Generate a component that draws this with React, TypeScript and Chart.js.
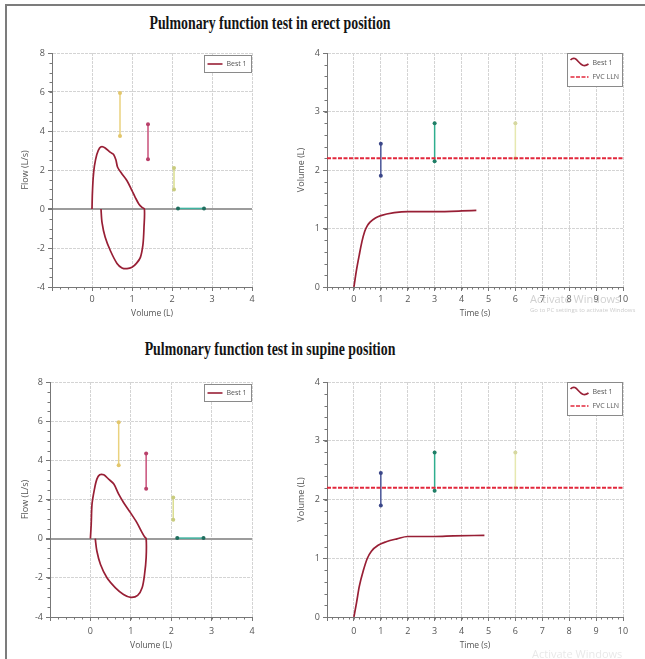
import React, { useEffect, useRef } from 'react';
import { Chart, registerables } from 'chart.js';

Chart.register(...registerables);

// ---------------- data ----------------
// Flow-volume loop, erect
const erectLoopVolume = [0, 0.01, 0.03, 0.06, 0.12, 0.19, 0.25, 0.33, 0.46, 0.54, 0.6, 0.64, 0.75, 0.875, 1.0, 1.08, 1.17, 1.25, 1.31, 1.3, 1.275, 1.21, 1.11, 1.0, 0.875, 0.75, 0.625, 0.46, 0.33, 0.25, 0.225];
const erectLoopFlow = [0, 0.8, 1.6, 2.2, 2.8, 3.13, 3.2, 3.13, 2.9, 2.8, 2.5, 2.14, 1.8, 1.45, 0.94, 0.6, 0.26, 0.08, 0, -0.94, -1.8, -2.48, -2.79, -2.99, -3.06, -3.02, -2.79, -2.14, -1.45, -0.68, 0];
// Flow-volume loop, supine
const supineLoopVolume = [0, 0.02, 0.04, 0.1, 0.16, 0.23, 0.33, 0.45, 0.58, 0.7, 0.82, 0.99, 1.15, 1.28, 1.34, 1.38, 1.38, 1.34, 1.28, 1.17, 1.0, 0.82, 0.62, 0.41, 0.25, 0.16, 0.12];
const supineLoopFlow = [0, 0.74, 1.76, 2.53, 3.04, 3.26, 3.26, 3.04, 2.79, 2.27, 1.85, 1.33, 0.82, 0.31, 0.1, 0, -0.97, -1.83, -2.51, -2.9, -3.0, -2.85, -2.51, -2.0, -1.32, -0.63, 0];
// Flow-volume reference bars (volume pairs, flow pairs)
const flowRefVolumes = [[0.7, 0.7], [1.4, 1.4], [2.05, 2.05], [2.15, 2.8]];
const erectFlowRefFlows = [[3.75, 5.95], [2.55, 4.35], [1.0, 2.1], [0.03, 0.03]];
const supineFlowRefVolumes = [[0.7, 0.7], [1.38, 1.38], [2.05, 2.05], [2.15, 2.8]];
const supineFlowRefFlows = [[3.75, 5.95], [2.55, 4.35], [0.97, 2.1], [0.03, 0.03]];

// Volume-time, erect
const erectTime = [0, 0.1, 0.2, 0.3, 0.4, 0.5, 0.6, 0.8, 1.0, 1.5, 2.0, 3.0, 4.0, 4.55];
const erectVolume = [0, 0.3, 0.55, 0.78, 0.95, 1.05, 1.11, 1.18, 1.22, 1.27, 1.29, 1.29, 1.3, 1.31];
// Volume-time, supine
const supineTime = [0, 0.1, 0.2, 0.35, 0.5, 0.65, 0.9, 1.2, 1.6, 2.0, 3.0, 3.7, 4.85];
const supineVolume = [0, 0.25, 0.52, 0.79, 1.0, 1.12, 1.22, 1.28, 1.33, 1.37, 1.37, 1.38, 1.39];
// FVC lower limit of normal
const fvcLlnTime = [-1, 10];
const fvcLlnVolume = [2.2, 2.2];
// Volume-time reference bars
const timeRefTimes = [[1, 1], [3, 3], [6, 6]];
const timeRefVolumes = [[1.9, 2.45], [2.15, 2.8], [2.2, 2.8]];

// Ticks
const loopVolumeTicks = [-1, 0, 1, 2, 3, 4];
const loopVolumeTickLabels = ['', '0', '1', '2', '3', '4'];
const flowTicks = [-4, -2, 0, 2, 4, 6, 8];
const flowTickLabels = ['-4', '-2', '0', '2', '4', '6', '8'];
const timeTicks = [-1, 0, 1, 2, 3, 4, 5, 6, 7, 8, 9, 10];
const timeTickLabels = ['', '0', '1', '2', '3', '4', '5', '6', '7', '8', '9', '10'];
const volumeTicks = [0, 1, 2, 3, 4];
const volumeTickLabels = ['0', '1', '2', '3', '4'];

// ---------------- styles ----------------
const BEST_COLOR = '#981f35';
const LLN_COLOR = '#e2283c';
const flowRefColors = ['#ead27e', '#c9507a', '#d9dc8e', '#3fb3a0'];
const flowRefPointColors = ['#e2c66c', '#b9406a', '#c9cc7e', '#1f6e5e'];
const timeRefColors = ['#4a5698', '#2fae8e', '#e6e8b0'];
const timeRefPointColors = ['#3a4688', '#1f7e66', '#d6d8a0'];

const FONT = '"Open Sans", "Noto Sans", sans-serif';

const pts = (xs: number[], ys: number[]) => xs.map((x, i) => ({ x, y: ys[i] }));

// ---------------- plugins ----------------
const minorTicksPlugin = {
  id: 'minorTicks',
  afterDraw(chart: any, _a: any, opts: any) {
    const { ctx, chartArea: a } = chart;
    const xs = chart.scales.x;
    const ys = chart.scales.y;
    ctx.save();
    ctx.strokeStyle = '#777';
    ctx.lineWidth = 1;
    ctx.beginPath();
    const nx = Math.round((xs.max - xs.min) / opts.x);
    for (let i = 0; i <= nx; i++) {
      const px = Math.round(xs.getPixelForValue(xs.min + i * opts.x)) + 0.5;
      ctx.moveTo(px, a.bottom);
      ctx.lineTo(px, a.bottom + 2.5);
    }
    const ny = Math.round((ys.max - ys.min) / opts.y);
    for (let i = 0; i <= ny; i++) {
      const py = Math.round(ys.getPixelForValue(ys.min + i * opts.y)) + 0.5;
      ctx.moveTo(a.left - 2.5, py);
      ctx.lineTo(a.left, py);
    }
    ctx.stroke();
    ctx.restore();
  },
};

const boxLegendPlugin = {
  id: 'boxLegend',
  afterDraw(chart: any, _a: any, opts: any) {
    const items = chart.data.datasets.filter((d: any) => d.inLegend);
    if (!items.length) return;
    const { ctx, chartArea: a } = chart;
    const w = opts.width;
    const h = items.length * opts.rowH + 5;
    const x0 = Math.round(a.right - w - 1) + 0.5;
    const y0 = Math.round(a.top + opts.top) + 0.5;
    ctx.save();
    ctx.fillStyle = '#ffffff';
    ctx.fillRect(x0, y0, w, h);
    ctx.strokeStyle = '#8a8a8a';
    ctx.lineWidth = 1;
    ctx.strokeRect(x0, y0, w, h);
    ctx.font = '7px ' + FONT;
    ctx.textBaseline = 'middle';
    items.forEach((d: any, i: number) => {
      const cy = y0 + 2.5 + opts.rowH * (i + 0.5);
      const ix = x0 + 3;
      ctx.strokeStyle = d.borderColor;
      ctx.lineWidth = 1.6;
      ctx.setLineDash(d.borderDash || []);
      ctx.beginPath();
      if (d.legendIcon === 'wave') {
        ctx.moveTo(ix, cy - 3);
        ctx.bezierCurveTo(ix + 7, cy - 10, ix + 9, cy + 8, ix + opts.sample, cy + 1);
      } else {
        ctx.moveTo(ix, cy);
        ctx.lineTo(ix + opts.sample, cy);
      }
      ctx.stroke();
      ctx.setLineDash([]);
      ctx.fillStyle = '#555';
      ctx.fillText(d.label, ix + opts.sample + 4, cy);
    });
    ctx.restore();
  },
};

// ---------------- chart config builder ----------------
type Box = { left: number; top: number; width: number; height: number };
type Area = { left: number; top: number; right: number; bottom: number };

function makeConfig(p: {
  canvas: Box;
  area: Area;
  datasets: any[];
  xTicks: number[];
  xLabels: string[];
  yTicks: number[];
  yLabels: string[];
  xTitle: string;
  yTitle: string;
  yTitleCenter: number;
  xTickPad: number;
  xTitlePad: number;
  zeroLine: boolean;
  minor: { x: number; y: number };
  legend: { width: number; rowH: number; sample: number; top: number };
}): any {
  const { canvas, area } = p;
  const gridColor = (c: any) =>
    p.zeroLine && c.tick && c.tick.value === 0 ? '#9c9c9c' : '#d4d4d4';
  const gridWidth = (c: any) => (p.zeroLine && c.tick && c.tick.value === 0 ? 2 : 1);
  const gridDash = (c: any) => (p.zeroLine && c.tick && c.tick.value === 0 ? [] : [3, 1]);
  return {
    type: 'scatter',
    data: { datasets: p.datasets },
    plugins: [minorTicksPlugin, boxLegendPlugin],
    options: {
      responsive: false,
      animation: false,
      devicePixelRatio: 1,
      layout: {
        padding: {
          left: 0,
          top: area.top - canvas.top,
          right: canvas.left + canvas.width - area.right,
          bottom: 0,
        },
      },
      plugins: {
        legend: { display: false },
        tooltip: { enabled: false },
        minorTicks: p.minor,
        boxLegend: p.legend,
      },
      scales: {
        x: {
          type: 'linear',
          min: p.xTicks[0],
          max: p.xTicks[p.xTicks.length - 1],
          afterBuildTicks: (s: any) => {
            s.ticks = p.xTicks.map((v) => ({ value: v }));
          },
          afterFit: (s: any) => {
            s.height = canvas.top + canvas.height - area.bottom;
          },
          ticks: {
            callback: (_v: any, i: number) => p.xLabels[i],
            color: '#555',
            font: { size: 9, family: FONT },
            padding: p.xTickPad,
            maxRotation: 0,
            autoSkip: false,
          },
          grid: { color: '#d4d4d4', tickColor: '#777', tickLength: 4, lineWidth: 1 },
          border: { display: true, color: '#777', width: 1, dash: [3, 1] },
          title: {
            display: true,
            text: p.xTitle,
            color: '#555',
            font: { size: 8.5, family: FONT },
            padding: { top: 0, bottom: p.xTitlePad },
          },
        },
        y: {
          type: 'linear',
          min: p.yTicks[0],
          max: p.yTicks[p.yTicks.length - 1],
          afterBuildTicks: (s: any) => {
            s.ticks = p.yTicks.map((v) => ({ value: v }));
          },
          afterFit: (s: any) => {
            s.width = area.left - canvas.left;
          },
          ticks: {
            callback: (_v: any, i: number) => p.yLabels[i],
            color: '#555',
            font: { size: 9, family: FONT },
            padding: 3,
            autoSkip: false,
          },
          grid: { color: gridColor, lineWidth: gridWidth, tickColor: '#777', tickLength: 4 },
          border: { display: true, color: '#777', width: 1, dash: gridDash },
          title: {
            display: true,
            text: p.yTitle,
            color: '#555',
            font: { size: 9, family: FONT },
            padding: { top: p.yTitleCenter - canvas.left - 5.4, bottom: 0 },
          },
        },
      },
    },
  };
}

function bestDataset(xs: number[], ys: number[], monotone: boolean) {
  return {
    label: 'Best 1',
    inLegend: true,
    legendIcon: monotone ? 'wave' : 'line',
    data: pts(xs, ys),
    showLine: true,
    borderColor: BEST_COLOR,
    backgroundColor: BEST_COLOR,
    borderWidth: 1.7,
    pointRadius: 0,
    tension: monotone ? 0 : 0.3,
    cubicInterpolationMode: monotone ? 'monotone' : 'default',
  };
}

function refDatasets(xs: number[][], ys: number[][], colors: string[], pointColors: string[]) {
  return xs.map((xp, i) => ({
    label: 'ref' + i,
    data: pts(xp, ys[i]),
    showLine: true,
    borderColor: colors[i],
    backgroundColor: pointColors[i],
    borderWidth: 1.5,
    pointRadius: 2,
    pointBorderWidth: 0,
    pointBackgroundColor: pointColors[i],
  }));
}

function llnDataset() {
  return {
    label: 'FVC LLN',
    inLegend: true,
    data: pts(fvcLlnTime, fvcLlnVolume),
    showLine: true,
    borderColor: LLN_COLOR,
    backgroundColor: LLN_COLOR,
    borderWidth: 2,
    borderDash: [4, 1.5],
    pointRadius: 0,
  };
}

function ChartCanvas({ box, config }: { box: Box; config: any }) {
  const ref = useRef<HTMLCanvasElement>(null);
  useEffect(() => {
    const chart = new Chart(ref.current as HTMLCanvasElement, config);
    return () => chart.destroy();
  }, []);
  return (
    <canvas
      ref={ref}
      width={box.width}
      height={box.height}
      style={{ position: 'absolute', left: box.left, top: box.top, width: box.width, height: box.height }}
    />
  );
}

const titleStyle = (top: number): React.CSSProperties => ({
  position: 'absolute',
  left: 0,
  width: 540,
  top,
  textAlign: 'center',
  fontFamily: '"Liberation Serif", "Times New Roman", serif',
  fontWeight: 'bold',
  fontSize: 18,
  lineHeight: '20px',
  color: '#141414',
  transform: 'scaleX(0.77)',
  transformOrigin: '270px 50%',
  whiteSpace: 'nowrap',
});

export default function App() {
  const c1: Box = { left: 0, top: 40, width: 262, height: 290 };
  const c2: Box = { left: 270, top: 40, width: 375, height: 290 };
  const c3: Box = { left: 0, top: 370, width: 262, height: 289 };
  const c4: Box = { left: 270, top: 370, width: 375, height: 289 };

  const cfg1 = makeConfig({
    canvas: c1,
    area: { left: 52, top: 53, right: 252, bottom: 287 },
    datasets: [
      bestDataset(erectLoopVolume, erectLoopFlow, false),
      ...refDatasets(flowRefVolumes, erectFlowRefFlows, flowRefColors, flowRefPointColors),
    ],
    xTicks: loopVolumeTicks,
    xLabels: loopVolumeTickLabels,
    yTicks: flowTicks,
    yLabels: flowTickLabels,
    xTitle: 'Volume (L)',
    yTitle: 'Flow (L/s)',
    yTitleCenter: 25,
    xTickPad: 3,
    xTitlePad: 11,
    zeroLine: true,
    minor: { x: 0.2, y: 0.5 },
    legend: { width: 47, rowH: 12, sample: 15, top: 2 },
  });

  const cfg2 = makeConfig({
    canvas: c2,
    area: { left: 327, top: 53, right: 623, bottom: 287 },
    datasets: [
      bestDataset(erectTime, erectVolume, true),
      llnDataset(),
      ...refDatasets(timeRefTimes, timeRefVolumes, timeRefColors, timeRefPointColors),
    ],
    xTicks: timeTicks,
    xLabels: timeTickLabels,
    yTicks: volumeTicks,
    yLabels: volumeTickLabels,
    xTitle: 'Time (s)',
    yTitle: 'Volume (L)',
    yTitleCenter: 301.7,
    xTickPad: 3,
    xTitlePad: 11,
    zeroLine: false,
    minor: { x: 0.2, y: 0.2 },
    legend: { width: 55, rowH: 14, sample: 18, top: 0 },
  });

  const cfg3 = makeConfig({
    canvas: c3,
    area: { left: 50, top: 382, right: 252, bottom: 617 },
    datasets: [
      bestDataset(supineLoopVolume, supineLoopFlow, false),
      ...refDatasets(supineFlowRefVolumes, supineFlowRefFlows, flowRefColors, flowRefPointColors),
    ],
    xTicks: loopVolumeTicks,
    xLabels: loopVolumeTickLabels,
    yTicks: flowTicks,
    yLabels: flowTickLabels,
    xTitle: 'Volume (L)',
    yTitle: 'Flow (L/s)',
    yTitleCenter: 25,
    xTickPad: 5,
    xTitlePad: 8,
    zeroLine: true,
    minor: { x: 0.2, y: 0.5 },
    legend: { width: 47, rowH: 12, sample: 15, top: 2 },
  });

  const cfg4 = makeConfig({
    canvas: c4,
    area: { left: 327, top: 382, right: 623, bottom: 617 },
    datasets: [
      bestDataset(supineTime, supineVolume, true),
      llnDataset(),
      ...refDatasets(timeRefTimes, timeRefVolumes, timeRefColors, timeRefPointColors),
    ],
    xTicks: timeTicks,
    xLabels: timeTickLabels,
    yTicks: volumeTicks,
    yLabels: volumeTickLabels,
    xTitle: 'Time (s)',
    yTitle: 'Volume (L)',
    yTitleCenter: 301.7,
    xTickPad: 5,
    xTitlePad: 8,
    zeroLine: false,
    minor: { x: 0.2, y: 0.2 },
    legend: { width: 55, rowH: 14, sample: 18, top: 0 },
  });

  return (
    <div
      style={{
        position: 'fixed',
        left: 0,
        top: 0,
        width: 645,
        height: 659,
        background: '#ffffff',
        overflow: 'hidden',
      }}
    >
      <div style={{ position: 'absolute', left: 5, top: 4, width: 640, height: 2, background: '#7c7c7c' }} />
      <div style={{ position: 'absolute', left: 5, top: 4, width: 2, height: 655, background: '#7c7c7c' }} />
      <div style={titleStyle(13)}>Pulmonary function test in erect position</div>
      <div style={titleStyle(339)}>Pulmonary function test in supine position</div>
      <ChartCanvas box={c1} config={cfg1} />
      <ChartCanvas box={c2} config={cfg2} />
      <ChartCanvas box={c3} config={cfg3} />
      <ChartCanvas box={c4} config={cfg4} />
      <div
        style={{
          position: 'absolute',
          left: 530,
          top: 291,
          fontFamily: FONT,
          fontSize: 11,
          color: 'rgba(170,170,170,0.55)',
          whiteSpace: 'nowrap',
        }}
      >
        Activate Windows
      </div>
      <div
        style={{
          position: 'absolute',
          left: 530,
          top: 306,
          fontFamily: FONT,
          fontSize: 6,
          color: 'rgba(170,170,170,0.6)',
          whiteSpace: 'nowrap',
        }}
      >
        Go to PC settings to activate Windows
      </div>
      <div
        style={{
          position: 'absolute',
          left: 532,
          top: 646,
          fontFamily: FONT,
          fontSize: 11,
          color: 'rgba(190,190,190,0.35)',
          whiteSpace: 'nowrap',
        }}
      >
        Activate Windows
      </div>
    </div>
  );
}
